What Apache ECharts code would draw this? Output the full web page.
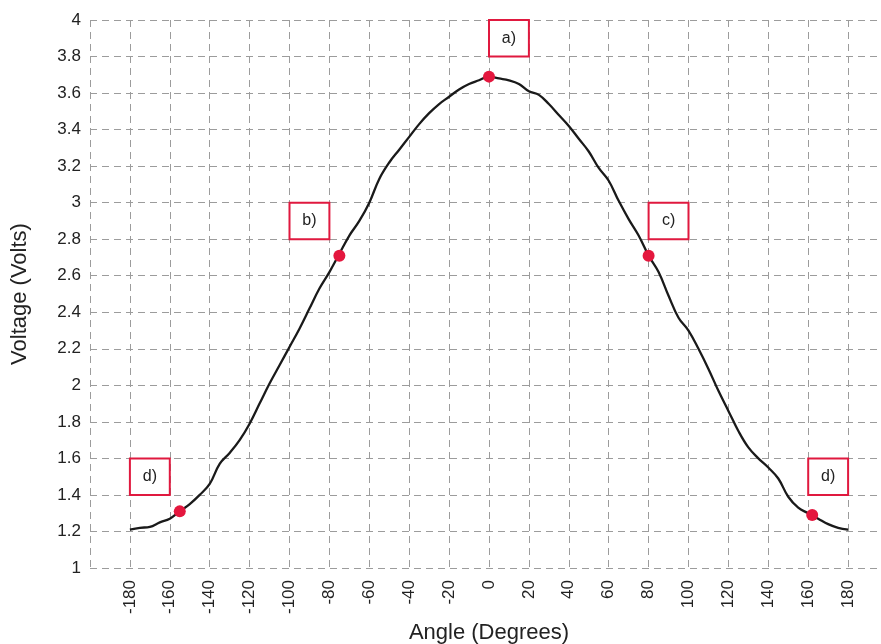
<!DOCTYPE html>
<html>
<head>
<meta charset="utf-8">
<script src="https://cdn.jsdelivr.net/npm/echarts@6/dist/echarts.min.js"></script>
<style>
  html, body { margin: 0; padding: 0; background: #fff; }
  #chart { width: 881px; height: 644px; }
</style>
</head>
<body>
<div id="chart"></div>
<script>
const angles = [
  -180, -175, -170, -165, -160, -155, -150, -145, -140, -135,
  -130, -125, -120, -115, -110, -105, -100, -95, -90, -85,
  -80, -75, -70, -65, -60, -55, -50, -45, -40, -35,
  -30, -25, -20, -15, -10, -5, 0, 5, 10, 15,
  20, 25, 30, 35, 40, 45, 50, 55, 60, 65,
  70, 75, 80, 85, 90, 95, 100, 105, 110, 115,
  120, 125, 130, 135, 140, 145, 150, 155, 160, 165,
  170, 175, 180
]
const voltages = [
  1.21, 1.22, 1.225, 1.25, 1.27, 1.31, 1.35, 1.40, 1.46, 1.57,
  1.63, 1.70, 1.79, 1.90, 2.01, 2.11, 2.21, 2.31, 2.42, 2.53,
  2.62, 2.72, 2.82, 2.90, 3.00, 3.13, 3.22, 3.29, 3.36, 3.43,
  3.49, 3.54, 3.58, 3.62, 3.65, 3.67, 3.69, 3.68, 3.67, 3.65,
  3.61, 3.59, 3.54, 3.48, 3.42, 3.35, 3.28, 3.19, 3.12, 3.01,
  2.91, 2.82, 2.71, 2.62, 2.49, 2.37, 2.30, 2.20, 2.09, 1.97,
  1.86, 1.75, 1.66, 1.60, 1.55, 1.49, 1.39, 1.33, 1.30, 1.27,
  1.24, 1.22, 1.21
]

// highlighted points
const markAngles = [0, -75, 80, -155, 162]
const markVolts = [3.69, 2.71, 2.71, 1.31, 1.29]

// label boxes: text and the grid cell they sit in [x0, x1, y0, y1]
const boxTexts = ['a)', 'b)', 'c)', 'd)', 'd)']
const boxCells = [
  [0, 20, 3.8, 4.0],
  [-100, -80, 2.8, 3.0],
  [80, 100, 2.8, 3.0],
  [-180, -160, 1.4, 1.6],
  [160, 180, 1.4, 1.6]
]

const chart = echarts.init(document.getElementById('chart'))

const gridLine = { show: true, lineStyle: { color: '#9c9c9c', width: 1, type: [7, 5] } }
const font = 'Liberation Sans, Arial, sans-serif'

chart.setOption({
  animation: false,
  textStyle: { fontFamily: font },
  grid: {
    left: 90, right: -7, top: 20, bottom: 76,
    containLabel: false,
    outerBoundsMode: 'none'
  },
  xAxis: {
    type: 'value',
    min: -200,
    max: 200,
    interval: 20,
    name: 'Angle (Degrees)',
    nameLocation: 'middle',
    nameGap: 45,
    nameTextStyle: { fontSize: 22, color: '#222', fontFamily: font },
    axisLine: { show: false },
    axisTick: { show: false },
    splitLine: gridLine,
    axisLabel: {
      rotate: 90,
      margin: 12,
      fontSize: 17,
      color: '#222',
      fontFamily: font,
      formatter: (v) => (Math.abs(v) > 180 ? '' : String(v))
    }
  },
  yAxis: {
    type: 'value',
    min: 1,
    max: 4,
    interval: 0.2,
    name: 'Voltage (Volts)',
    nameLocation: 'middle',
    nameGap: 59,
    nameTextStyle: { fontSize: 22, color: '#222', fontFamily: font },
    axisLine: { show: false },
    axisTick: { show: false },
    splitLine: gridLine,
    axisLabel: {
      margin: 9,
      fontSize: 17,
      color: '#222',
      fontFamily: font,
      formatter: (v) => String(Math.round(v * 10) / 10)
    }
  },
  series: [
    {
      type: 'line',
      data: angles.map((a, i) => [a, voltages[i]]),
      smooth: 0.4,
      showSymbol: false,
      lineStyle: { color: '#1a1a1a', width: 2.3 },
      z: 3,
      markArea: {
        silent: true,
        itemStyle: { color: '#fff', borderColor: '#e0193f', borderWidth: 2 },
        label: {
          show: true,
          position: 'inside',
          fontSize: 16,
          color: '#222',
          fontFamily: font
        },
        data: boxCells.map((c, i) => [
          { name: boxTexts[i], coord: [c[0], c[3]] },
          { coord: [c[1], c[2]] }
        ])
      }
    },
    {
      type: 'scatter',
      data: markAngles.map((a, i) => [a, markVolts[i]]),
      symbolSize: 12,
      itemStyle: { color: '#e4173e', opacity: 1 },
      z: 5
    }
  ]
})
</script>
</body>
</html>
